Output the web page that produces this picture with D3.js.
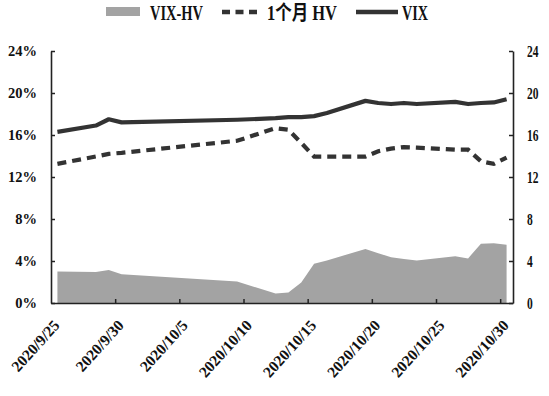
<!DOCTYPE html>
<html><head><meta charset="utf-8">
<script src="https://cdn.jsdelivr.net/npm/d3@7/dist/d3.min.js"></script>
<style>
body{margin:0;background:#fff;}
svg{display:block;}
text{font-family:"Liberation Serif","Noto Sans CJK SC",serif;font-weight:bold;fill:#111;}
</style></head>
<body>
<svg id="c" width="549" height="396"></svg>
<script>
const dates = ["2020-09-25","2020-09-28","2020-09-29","2020-09-30","2020-10-09","2020-10-12","2020-10-13","2020-10-14","2020-10-15","2020-10-16","2020-10-19","2020-10-20","2020-10-21","2020-10-22","2020-10-23","2020-10-26","2020-10-27","2020-10-28","2020-10-29","2020-10-30"];
const vix   = [16.3,16.9,17.5,17.2,17.45,17.6,17.7,17.7,17.8,18.1,19.25,19.05,18.95,19.05,18.95,19.15,18.95,19.05,19.1,19.4];
const hv1m  = [13.25,13.95,14.2,14.3,15.45,16.65,16.5,15.25,13.95,13.95,13.95,14.45,14.7,14.85,14.8,14.6,14.6,13.5,13.25,13.85];
const vixHv = [3.0,2.95,3.15,2.75,2.05,0.9,1.0,1.95,3.75,4.05,5.15,4.75,4.35,4.2,4.05,4.45,4.25,5.65,5.7,5.55];
const leftTicks = [0,4,8,12,16,20,24];
const rightTicks = [0,4,8,12,16,20,24];
const xLabels = ["2020/9/25","2020/9/30","2020/10/5","2020/10/10","2020/10/15","2020/10/20","2020/10/25","2020/10/30"];
const legendNames = ["VIX-HV","1个月 HV","VIX"];

const parse = d3.timeParse("%Y-%m-%d");
const lblParse = d3.timeParse("%Y/%m/%d");
const data = dates.map((d,i)=>({date:parse(d), vix:vix[i], hv:hv1m[i], diff:vixHv[i]}));

const svg = d3.select("#c");
const L=51, R=513, T=51, B=303;
const x = d3.scaleTime().domain([parse("2020-09-25"), parse("2020-10-31")]).range([L,R]);
const half = (x(parse("2020-09-26")) - x(parse("2020-09-25")))/2;
const px = d => x(d) + half;
const yL = d3.scaleLinear().domain([0,24]).range([B,T]);
const yR = d3.scaleLinear().domain([0,24]).range([B,T]);
const dark = "#333";

// area
svg.append("path").datum(data)
  .attr("fill","#a3a3a3")
  .attr("d", d3.area().x(d=>px(d.date)).y0(yL(0)).y1(d=>yL(d.diff)));

// lines
svg.append("path").datum(data)
  .attr("fill","none").attr("stroke",dark).attr("stroke-width",4.2)
  .attr("stroke-dasharray","9,6").attr("stroke-linecap","butt")
  .attr("d", d3.line().x(d=>px(d.date)).y(d=>yL(d.hv)));
svg.append("path").datum(data)
  .attr("fill","none").attr("stroke",dark).attr("stroke-width",4.2)
  .attr("stroke-linejoin","round")
  .attr("d", d3.line().x(d=>px(d.date)).y(d=>yL(d.vix)));

// axes
const gl = svg.append("g").attr("transform",`translate(${L},0)`)
  .call(d3.axisLeft(yL).tickValues(leftTicks).tickSizeInner(-4).tickSizeOuter(0).tickPadding(14).tickFormat(d=>d+"%"));
gl.selectAll("text").style("font-size","14.5px");
const gr = svg.append("g").attr("transform",`translate(${R},0)`)
  .call(d3.axisRight(yR).tickValues(rightTicks).tickSizeInner(-4).tickSizeOuter(0).tickPadding(0).tickFormat(d=>d));
gr.selectAll("text").style("font-size","16px")
  .attr("x",null)
  .attr("transform",d=>`translate(14,0) scale(0.72,1)`);
const tickDates = xLabels.slice(1).map(s=>lblParse(s));
const gb = svg.append("g").attr("transform",`translate(0,${B})`)
  .call(d3.axisBottom(x).tickValues(tickDates).tickSizeInner(-4).tickSizeOuter(0).tickFormat(""));
[gl,gr,gb].forEach(g=>{g.select(".domain").attr("stroke","#222").attr("stroke-width",1.6);
  g.selectAll(".tick line").attr("stroke","#222").attr("stroke-width",1.5);});

// x labels
svg.append("g").selectAll("text").data(xLabels).join("text")
  .attr("text-anchor","end")
  .attr("transform",d=>`translate(${px(lblParse(d))+3},${B+23}) rotate(-48)`)
  .style("font-size","15.5px")
  .text(d=>d);

// legend
const lg = svg.append("g");
lg.append("rect").attr("x",106).attr("y",7).attr("width",34).attr("height",9).attr("fill","#a3a3a3");
lg.append("text").attr("x",150).attr("y",20).attr("textLength",53).attr("lengthAdjust","spacingAndGlyphs").style("font-size","20px").text(legendNames[0]);
lg.append("line").attr("x1",222).attr("x2",261).attr("y1",12).attr("y2",12).attr("stroke",dark).attr("stroke-width",4.5).attr("stroke-dasharray","8,5.5").attr("stroke-linecap","butt");
lg.append("text").attr("x",267).attr("y",20).attr("textLength",70).attr("lengthAdjust","spacingAndGlyphs").style("font-size","20px").text(legendNames[1]);
lg.append("line").attr("x1",356).attr("x2",398).attr("y1",12).attr("y2",12).attr("stroke",dark).attr("stroke-width",4.5);
lg.append("text").attr("x",402).attr("y",20).attr("textLength",26).attr("lengthAdjust","spacingAndGlyphs").style("font-size","20px").text(legendNames[2]);
</script>
</body></html>
